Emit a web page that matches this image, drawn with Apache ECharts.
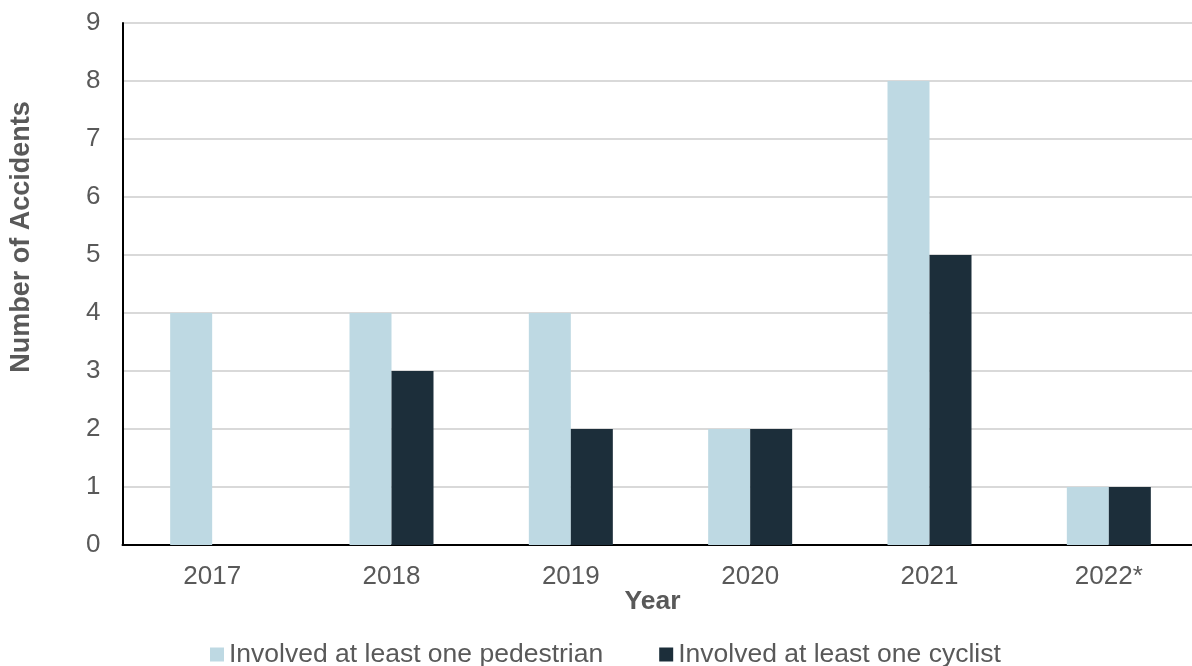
<!DOCTYPE html>
<html>
<head>
<meta charset="utf-8">
<script src="https://cdn.jsdelivr.net/npm/echarts@6/dist/echarts.min.js"></script>
<style>
  html, body { margin: 0; padding: 0; background: #fff; overflow: hidden; }
  #chart { width: 1192px; height: 666px; }
</style>
</head>
<body>
<div id="chart"></div>
<script>
// Accidents by year
const years = ['2017', '2018', '2019', '2020', '2021', '2022*'];
const pedestrian = [4, 4, 4, 2, 8, 1];
const cyclist = [0, 3, 2, 2, 5, 1];
const yTicks = { min: 0, max: 9, interval: 1 };

const font = 'Liberation Sans, Arial, sans-serif';
const grey = '#595959';
const chart = echarts.init(document.getElementById('chart'));

chart.setOption({
  animation: false,
  textStyle: { fontFamily: font },
  grid: {
    left: 122.5, width: 1076, top: 23, height: 522,
    containLabel: false,
    outerBoundsMode: 'none'
  },
  legend: {
    top: 641,
    left: 210,
    padding: 0,
    itemWidth: 14,
    itemHeight: 14,
    itemGap: 56,
    icon: 'rect',
    textStyle: { fontSize: 26.5, color: grey, fontFamily: font },
    data: ['Involved at least one pedestrian', 'Involved at least one cyclist']
  },
  xAxis: {
    type: 'category',
    data: years,
    name: 'Year',
    nameLocation: 'middle',
    nameGap: 43,
    nameMoveOverlap: false,
    nameTextStyle: {
      fontSize: 26.5, fontWeight: 'bold', color: grey, fontFamily: font,
      padding: [0, 16, 0, 0]
    },
    axisLine: { lineStyle: { color: '#000', width: 2 } },
    axisTick: { show: false },
    axisLabel: { fontSize: 26, color: grey, margin: 19, fontFamily: font }
  },
  yAxis: {
    type: 'value',
    min: yTicks.min,
    max: yTicks.max,
    interval: yTicks.interval,
    name: 'Number of Accidents',
    nameLocation: 'middle',
    nameGap: 87,
    nameMoveOverlap: false,
    nameTextStyle: {
      fontSize: 27, fontWeight: 'bold', color: grey, fontFamily: font,
      padding: [0, 0, 0, 94]
    },
    axisLine: { show: true, lineStyle: { color: '#000', width: 2 } },
    axisTick: { show: false },
    axisLabel: { fontSize: 26, color: grey, margin: 22, fontFamily: font },
    splitLine: { lineStyle: { color: '#d9d9d9', width: 2 } }
  },
  series: [
    {
      name: 'Involved at least one pedestrian',
      type: 'bar',
      data: pedestrian,
      barWidth: 42,
      barGap: '0%',
      itemStyle: { color: '#bed9e3' }
    },
    {
      name: 'Involved at least one cyclist',
      type: 'bar',
      data: cyclist,
      barWidth: 42,
      barGap: '0%',
      itemStyle: { color: '#1c2e3a' }
    }
  ]
});
</script>
</body>
</html>
